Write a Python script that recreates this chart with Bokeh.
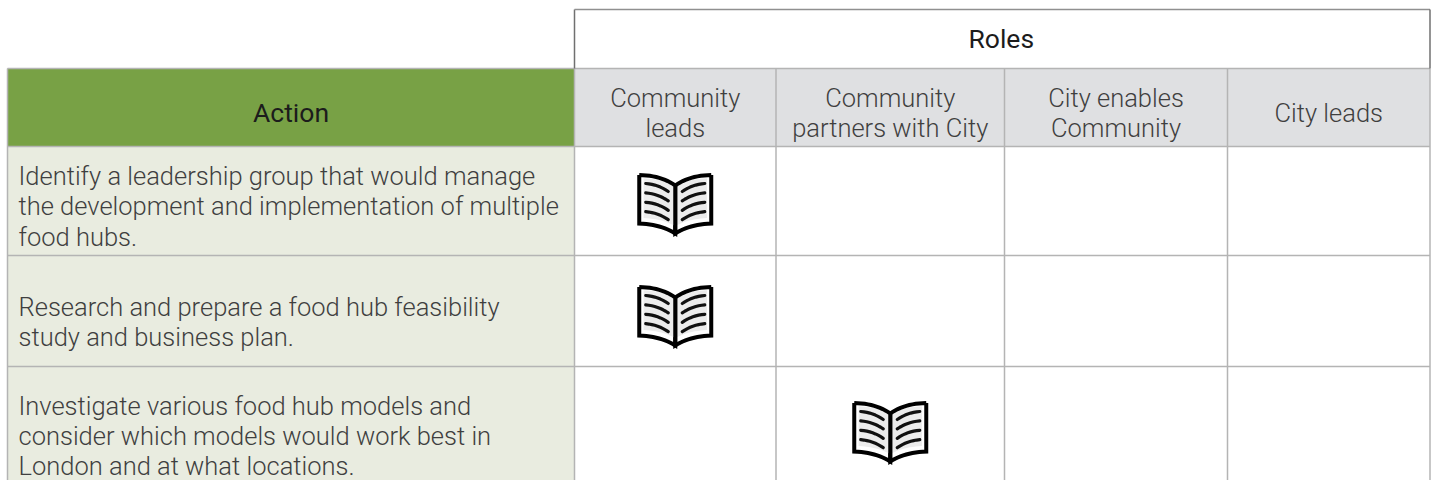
from bokeh.plotting import figure
from bokeh.embed import file_html
from bokeh.resources import INLINE
from bokeh.core.properties import value
from bokeh.models import Range1d

roles_title = "Roles"
action_title = "Action"
role_headers = [["Community", "leads"], ["Community", "partners with City"],
                ["City enables", "Community"], ["City leads"]]
actions = [
    ["Identify a leadership group that would manage",
     "the development and implementation of multiple", "food hubs."],
    ["Research and prepare a food hub feasibility", "study and business plan."],
    ["Investigate various food hub models and",
     "consider which models would work best in",
     "London and at what locations."],
]
assigned_role = [0, 0, 1]

# layout, in page pixels
X = [7, 574, 775.5, 1004, 1227, 1429.5]
Y_TOP, Y_HEAD0, Y_HEAD1 = 9, 68, 146
ROWS = [146, 255, 366, 480]
BOOK_Y = [204, 316, 432]
BODY_Y = [[175, 205, 236], [306, 336], [405, 435, 465]]
LIGHT = value("Roboto Light")
REG = value("Roboto")
INK = "#3f3f3f"
GRID = "#b4b4b4"
FS = "25.5px"

p = figure(width=1433, height=480, output_backend="svg", toolbar_location=None,
           x_range=Range1d(0, 1433), y_range=Range1d(480, 0),
           min_border=0, outline_line_color=None)
p.axis.visible = False
p.grid.visible = False

# fills
p.quad(left=[X[0]], right=[X[1]], top=[Y_HEAD0], bottom=[Y_HEAD1], fill_color="#78a145", line_color=None)
p.quad(left=[X[1]], right=[X[5]], top=[Y_HEAD0], bottom=[Y_HEAD1], fill_color="#dfe0e2", line_color=None)
p.quad(left=[X[0]], right=[X[1]], top=[ROWS[0]], bottom=[ROWS[-1]], fill_color="#e9ece0", line_color=None)

# grid
hs = [[X[0], X[5]]] * 2 + [[X[0], X[5]] for _ in ROWS[1:3]]
hy = [[Y_HEAD0] * 2, [Y_HEAD1] * 2, [ROWS[1]] * 2, [ROWS[2]] * 2]
p.multi_line(hs, hy, line_color=GRID, line_width=1.5)
vx = [[X[0]] * 2] + [[x, x] for x in X[1:]]
vy = [[Y_HEAD0, 480]] + [[Y_HEAD0, 480] for _ in X[1:]]
p.multi_line(vx, vy, line_color=GRID, line_width=1.5)
# roles box
p.line([X[1], X[1]], [Y_TOP, Y_HEAD0], line_color="#707070", line_width=1.5)
p.line([X[1], X[5]], [Y_TOP, Y_TOP], line_color="#909090", line_width=1.5)
p.line([X[5], X[5]], [Y_TOP, Y_HEAD0], line_color="#707070", line_width=1.5)

# headings
p.text([(X[1] + X[5]) / 2 - 1], [38], text=[roles_title], text_font=REG, text_font_size="26.5px",
       text_color="#1c1c1c", text_align="center", text_baseline="alphabetic")
p.text([(X[0] + X[1]) / 2], [112], text=[action_title], text_font=REG, text_font_size="26.5px",
       text_color="#1c1c1c", text_align="center", text_baseline="alphabetic")
for i, lines in enumerate(role_headers):
    cx = (X[i + 1] + X[i + 2]) / 2
    bases = [97, 127] if len(lines) == 2 else [112]
    for line, b in zip(lines, bases):
        p.text([cx], [b], text=[line], text_font=LIGHT, text_font_size=FS, text_color=INK,
               text_align="center", text_baseline="alphabetic")

# action text
for lines, bases in zip(actions, BODY_Y):
    for line, b in zip(lines, bases):
        p.text([18], [b], text=[line], text_font=LIGHT, text_font_size=FS, text_color=INK,
               text_align="left", text_baseline="alphabetic")


def curve(a, c, b, n=12):
    return ([(1 - t) ** 2 * a[0] + 2 * t * (1 - t) * c[0] + t * t * b[0] for t in [i / n for i in range(n + 1)]],
            [(1 - t) ** 2 * a[1] + 2 * t * (1 - t) * c[1] + t * t * b[1] for t in [i / n for i in range(n + 1)]])


def book(cx, cy):
    top_x, top_y = curve((-36, -29.5), (-14, -29), (0, -19))
    bot_x, bot_y = curve((0, 29), (-14, 20), (-36, 19))
    lx = top_x + bot_x
    ly = top_y + bot_y
    # page shading
    for s in (-1, 1):
        p.patch([cx + s * (x * 0.88) for x in lx], [cy - 2 + y * 0.82 for y in ly], fill_color="#ececec", line_color=None)
        p.line([cx + s * x for x in lx + lx[:1]], [cy + y for y in ly + ly[:1]],
               line_color="#000000", line_width=4, line_join="miter")
        for k in range(4):
            sx, sy = curve((-29.5, -21 + k * 9.4), (-17, -20 + k * 9.4), (-7, -13 + k * 9.4), 8)
            p.line([cx + s * x for x in sx], [cy + y for y in sy], line_color="#111111",
                   line_width=3.2, line_cap="round")


for r, c in enumerate(assigned_role):
    book((X[c + 1] + X[c + 2]) / 2, BOOK_Y[r])

open("out.html", "w").write(file_html(p, INLINE))
